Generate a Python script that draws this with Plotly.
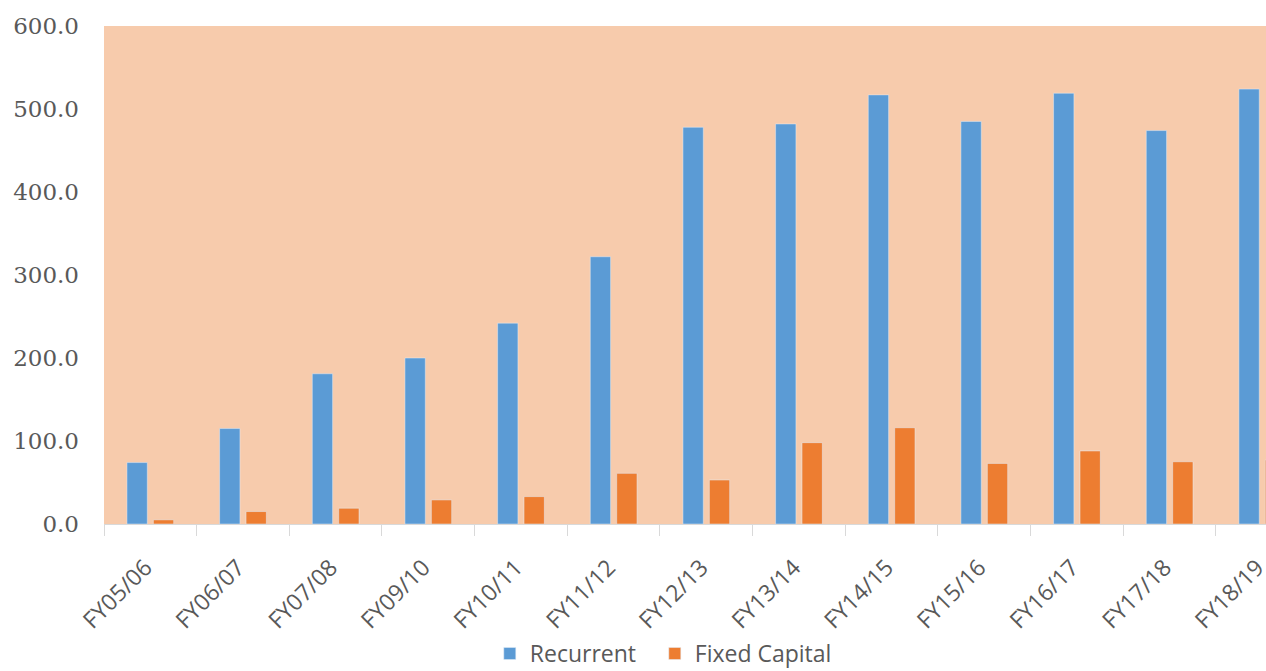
import plotly.graph_objects as go

categories = ["FY05/06", "FY06/07", "FY07/08", "FY09/10", "FY10/11", "FY11/12",
              "FY12/13", "FY13/14", "FY14/15", "FY15/16", "FY16/17", "FY17/18", "FY18/19"]
recurrent = [74, 115, 181, 200, 242, 322, 478, 482, 517, 485, 519, 474, 524]
fixed_capital = [5, 15, 19, 29, 33, 61, 53, 98, 116, 73, 88, 75, 77]
y_ticks = [0, 100, 200, 300, 400, 500, 600]
y_tick_labels = ["0.0", "100.0", "200.0", "300.0", "400.0", "500.0", "600.0"]

legend_font = dict(family="Open Sans", size=23, color="#595959")

fig = go.Figure()
fig.add_trace(go.Bar(x=categories, y=recurrent, name="Recurrent",
                     marker_color="#5B9BD5", legend="legend"))
fig.add_trace(go.Bar(x=categories, y=fixed_capital, name="Fixed Capital",
                     marker_color="#ED7D31", legend="legend2"))

fig.update_layout(
    width=1266, height=671,
    margin=dict(l=104, r=0, t=26, b=147),
    paper_bgcolor="white",
    plot_bgcolor="#F7CBAC",
    barmode="group",
    bargap=0.43,
    bargroupgap=0.23,
    showlegend=True,
    legend=dict(orientation="h", x=0.332, xanchor="left",
                yref="container", y=0.026, yanchor="middle",
                font=legend_font, itemwidth=30),
    legend2=dict(orientation="h", x=0.474, xanchor="left",
                 yref="container", y=0.026, yanchor="middle",
                 font=legend_font, itemwidth=30),
)
fig.update_xaxes(
    type="category",
    range=[-0.5, 12.04],
    automargin=False,
    tickson="boundaries",
    ticks="outside", ticklen=11, tickcolor="#D9D9D9",
    showline=True, linecolor="#D9D9D9", linewidth=1,
    tickangle=-45,
    ticklabelstandoff=20,
    ticklabelshift=-5,
    tickfont=dict(family="Open Sans", size=23, color="#595959"),
    showgrid=False,
)
fig.update_yaxes(
    range=[0, 600],
    automargin=False,
    tickvals=y_ticks, ticktext=y_tick_labels,
    tickfont=dict(family="DejaVu Serif", size=23, color="#595959"),
    showgrid=False, zeroline=False, showline=False,
    ticks="", ticklabelstandoff=24,
)

fig.write_html("out.html")
